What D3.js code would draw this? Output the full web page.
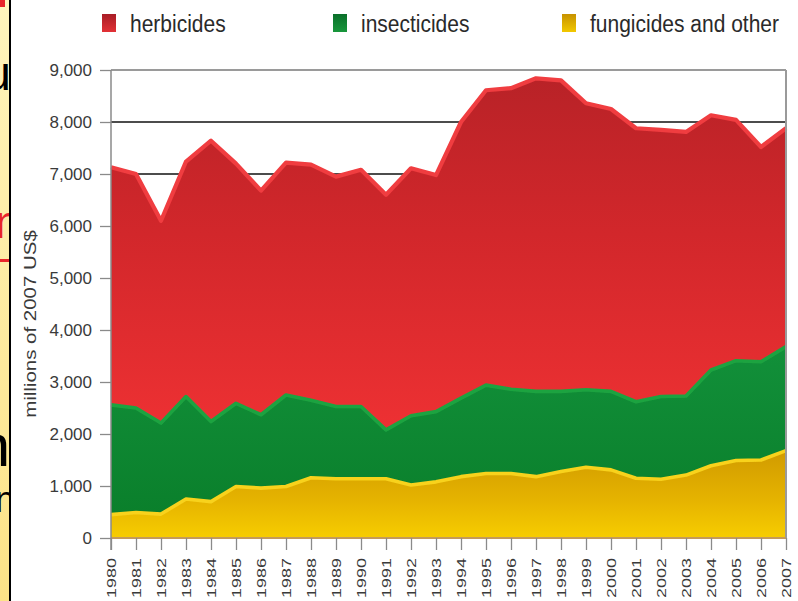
<!DOCTYPE html>
<html>
<head>
<meta charset="utf-8">
<script src="https://cdn.jsdelivr.net/npm/d3@7"></script>
<style>
  html, body { margin: 0; padding: 0; background: #fff; overflow: hidden; }
  svg { display: block; }
  text { font-family: "Liberation Sans", Arial, Helvetica, sans-serif; }
</style>
</head>
<body>
<svg id="chart" width="798" height="601"></svg>
<script>
// World pesticide sales by type, millions of 2007 US$
const years = [1980, 1981, 1982, 1983, 1984, 1985, 1986, 1987, 1988, 1989,
               1990, 1991, 1992, 1993, 1994, 1995, 1996, 1997, 1998, 1999,
               2000, 2001, 2002, 2003, 2004, 2005, 2006, 2007];
const herbicides   = [4570, 4500, 3890, 4520, 5400, 4610, 4310, 4470, 4530, 4420,
                      4550, 4520, 4760, 4550, 5310, 5670, 5790, 6020, 5980, 5510,
                      5430, 5260, 5130, 5080, 4900, 4630, 4130, 4200];
const insecticides = [2110, 2010, 1750, 1970, 1540, 1600, 1410, 1760, 1490, 1390,
                      1390, 940, 1330, 1350, 1510, 1700, 1620, 1640, 1540, 1490,
                      1510, 1470, 1590, 1520, 1840, 1920, 1890, 2000];
const fungicides   = [450, 490, 460, 750, 700, 990, 960, 990, 1160, 1140,
                      1140, 1140, 1020, 1080, 1180, 1240, 1240, 1180, 1280, 1360,
                      1310, 1150, 1130, 1210, 1390, 1490, 1500, 1680];
const stackKeys    = ["fungicides", "insecticides", "herbicides"];
const legendKeys   = ["herbicides", "insecticides", "fungicides"];
const legendLabels = ["herbicides", "insecticides", "fungicides and other"];
const yTickValues  = [0, 1000, 2000, 3000, 4000, 5000, 6000, 7000, 8000, 9000];
const yAxisTitle   = "millions of 2007 US$";

const W = 798, H = 601;
const margin = { top: 70, right: 12, bottom: 63, left: 111 };
const svg = d3.select("#chart");
const defs = svg.append("defs");

const rows = years.map((yr, i) => ({
  year: yr,
  herbicides: herbicides[i],
  insecticides: insecticides[i],
  fungicides: fungicides[i]
}));

const x = d3.scaleLinear().domain([years[0], years[years.length - 1]])
  .range([margin.left, W - margin.right]);
const y = d3.scaleLinear().domain([0, 9000]).range([H - margin.bottom, margin.top]);

// ---- gradients ----
function vGrad(id, stops, y1, y2, units) {
  const g = defs.append("linearGradient").attr("id", id)
    .attr("x1", 0).attr("x2", 0).attr("y1", y1).attr("y2", y2);
  if (units) g.attr("gradientUnits", units);
  stops.forEach(s => g.append("stop").attr("offset", s[0]).attr("stop-color", s[1]));
}
vGrad("gRed", [[0, "#b72227"], [0.45, "#d2272b"], [1, "#ee3133"]], y(9000), y(2000), "userSpaceOnUse");
vGrad("gGreen", [[0, "#12903a"], [1, "#0a7f2b"]], y(3700), y(400), "userSpaceOnUse");
vGrad("gYellow", [[0, "#cf9900"], [0.6, "#e6b400"], [1, "#f7cd00"]], y(1750), y(0), "userSpaceOnUse");
vGrad("gStrip", [[0, "#fff5bd"], [1, "#fce387"]], 0, 1);
vGrad("sRed", [[0, "#a81d26"], [1, "#e23136"]], 0, 1);
vGrad("sGreen", [[0, "#0a6f2a"], [1, "#19973c"]], 0, 1);
vGrad("sYellow", [[0, "#c79200"], [1, "#f2c800"]], 0, 1);

const fills = { herbicides: "url(#gRed)", insecticides: "url(#gGreen)", fungicides: "url(#gYellow)" };
const edges = { herbicides: "#f03c40", insecticides: "#1ea341", fungicides: "#f8d21c" };
const swatches = { herbicides: "url(#sRed)", insecticides: "url(#sGreen)", fungicides: "url(#sYellow)" };

defs.append("filter").attr("id", "soft").append("feGaussianBlur").attr("stdDeviation", 0.6);

// ---- slide edge on the left ----
svg.append("rect").attr("x", 0).attr("y", 0).attr("width", 10).attr("height", H).attr("fill", "url(#gStrip)");
defs.append("clipPath").attr("id", "stripClip").append("rect")
  .attr("x", 0).attr("y", 0).attr("width", 9).attr("height", H);
const strip = svg.append("g").attr("clip-path", "url(#stripClip)");
strip.append("rect").attr("x", 0).attr("y", 0).attr("width", 5).attr("height", 7).attr("fill", "#e8262b");
strip.append("text").attr("x", 11).attr("y", 90).attr("text-anchor", "end")
  .attr("font-size", 48).attr("fill", "#000").text("u");
strip.append("text").attr("x", -5).attr("y", 238)
  .attr("font-size", 46).attr("fill", "#e8262b").text("n");
strip.append("rect").attr("x", 0).attr("y", 259).attr("width", 9).attr("height", 3).attr("fill", "#e8262b");
strip.append("text").attr("x", 10).attr("y", 466).attr("text-anchor", "end")
  .attr("font-size", 60).attr("fill", "#000").text("n");
strip.append("text").attr("x", -5).attr("y", 512)
  .attr("font-size", 36).attr("fill", "#000").text("n");
svg.append("rect").attr("x", 9).attr("y", 0).attr("width", 2).attr("height", H).attr("fill", "#000");
svg.append("rect").attr("x", 11).attr("y", 0).attr("width", W - 11).attr("height", H).attr("fill", "#fff");

// ---- gridlines ----
const grid = svg.append("g");
grid.selectAll("line").data(yTickValues.filter(v => v > 0)).join("line")
  .attr("x1", margin.left).attr("x2", W - margin.right)
  .attr("y1", d => y(d)).attr("y2", d => y(d))
  .attr("stroke", d => d === 9000 ? "#9a9a9a" : "#111")
  .attr("stroke-width", d => d === 9000 ? 2 : 1.6);

// ---- stacked areas ----
const stacked = d3.stack().keys(stackKeys)(rows);
const area = d3.area()
  .x(d => x(d.data.year))
  .y0(d => y(d[0]))
  .y1(d => y(d[1]));
const topLine = d3.line()
  .x(d => x(d.data.year))
  .y(d => y(d[1]));

svg.append("g").selectAll("path").data(stacked).join("path")
  .attr("d", area)
  .attr("fill", d => fills[d.key]);

svg.append("g").selectAll("path").data(stacked.slice().reverse()).join("path")
  .attr("d", topLine)
  .attr("fill", "none")
  .attr("stroke", d => edges[d.key])
  .attr("stroke-width", d => d.key === "herbicides" ? 4.2 : 3.6)
  .attr("stroke-linejoin", "round")
  .attr("filter", "url(#soft)");

// ---- frame ----
svg.append("line").attr("x1", W - margin.right).attr("x2", W - margin.right)
  .attr("y1", y(9000)).attr("y2", y(0)).attr("stroke", "#9a9a9a").attr("stroke-width", 2);
svg.append("line").attr("x1", margin.left).attr("x2", W - margin.right)
  .attr("y1", y(0)).attr("y2", y(0)).attr("stroke", "#c49a5a").attr("stroke-width", 2);

// ---- y axis ----
const yAxis = svg.append("g").attr("transform", `translate(${margin.left},0)`)
  .call(d3.axisLeft(y).tickValues(yTickValues).tickFormat(d3.format(",")).tickSize(11).tickPadding(8));
yAxis.select(".domain").attr("stroke", "#8a8a8a").attr("stroke-width", 1.5)
  .attr("d", `M0,${y(9000)}V${y(0) + 12}`);
yAxis.selectAll(".tick line").attr("stroke", "#8a8a8a").attr("stroke-width", 1.3);
yAxis.selectAll(".tick text").attr("font-size", 17).attr("fill", "#3a3a3a")
  .attr("font-family", "Liberation Sans, Arial, sans-serif");

// ---- x axis ----
const xAxis = svg.append("g").attr("transform", `translate(0,${y(0)})`)
  .call(d3.axisBottom(x).tickValues(years).tickFormat(d3.format("d")).tickSize(12));
xAxis.select(".domain").remove();
xAxis.selectAll(".tick line").attr("stroke", "#8a8a8a").attr("stroke-width", 1.3);
xAxis.selectAll(".tick text")
  .attr("font-size", 13).attr("fill", "#3a3a3a")
  .attr("font-family", "Liberation Sans, Arial, sans-serif")
  .attr("text-anchor", "end")
  .attr("x", 0).attr("y", 0).attr("dy", "0.36em")
  .attr("transform", "translate(0,20) rotate(-90) scale(1.38,1)");

// ---- y axis title ----
svg.append("text")
  .attr("transform", `translate(36,${(y(9000) + y(0)) / 2 + 20}) rotate(-90) scale(1.28,1)`)
  .attr("text-anchor", "middle")
  .attr("font-size", 16).attr("fill", "#3a3a3a")
  .text(yAxisTitle);

// ---- legend ----
const legendX = [102, 333, 562];
const legend = svg.append("g").selectAll("g").data(legendKeys).join("g")
  .attr("transform", (d, i) => `translate(${legendX[i]},0)`);
legend.append("rect").attr("x", 0).attr("y", 14).attr("width", 14).attr("height", 18)
  .attr("fill", d => swatches[d]);
legend.append("text")
  .attr("transform", "translate(28,32) scale(1,1.15)")
  .attr("font-size", 21).attr("fill", "#2a2a2a")
  .text((d, i) => legendLabels[i]);
</script>
</body>
</html>
